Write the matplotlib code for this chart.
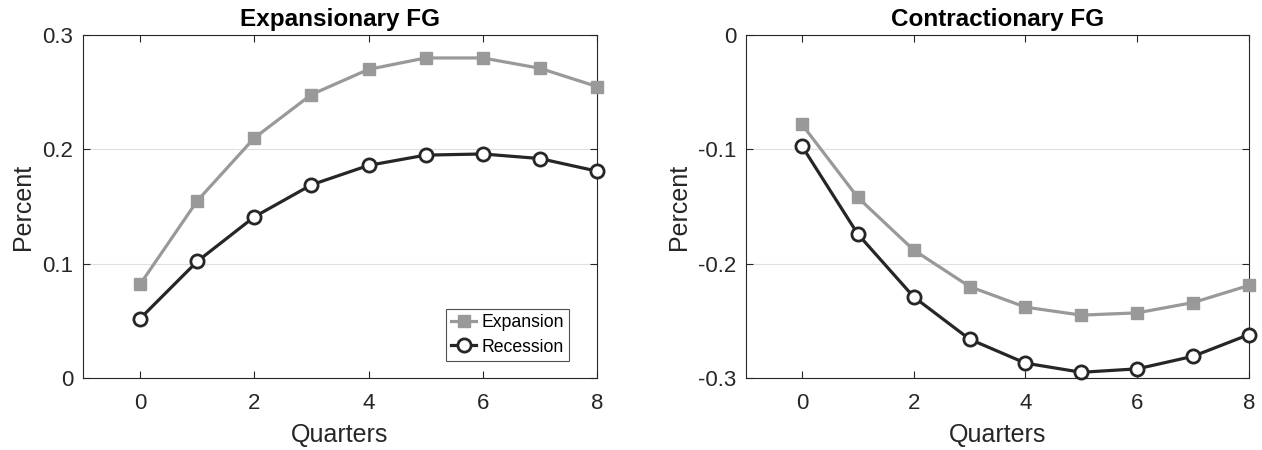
import matplotlib
matplotlib.use("Agg")
import matplotlib.pyplot as plt

plt.rcParams['font.family'] = ['Liberation Sans', 'DejaVu Sans']

quarters = [0, 1, 2, 3, 4, 5, 6, 7, 8]
exp_fg_expansion = [0.082, 0.155, 0.210, 0.248, 0.270, 0.280, 0.280, 0.271, 0.255]
exp_fg_recession = [0.052, 0.102, 0.141, 0.169, 0.186, 0.195, 0.196, 0.192, 0.181]
con_fg_expansion = [-0.078, -0.142, -0.188, -0.220, -0.238, -0.245, -0.243, -0.234, -0.219]
con_fg_recession = [-0.097, -0.174, -0.229, -0.266, -0.287, -0.295, -0.292, -0.281, -0.262]

titles = ["Expansionary FG", "Contractionary FG"]
xticks = [0, 2, 4, 6, 8]
yticks_left = [0, 0.1, 0.2, 0.3]
yticks_right = [-0.3, -0.2, -0.1, 0]

c_exp = '#999999'
c_rec = '#262626'

fig = plt.figure(figsize=(12.62, 4.5), dpi=100)
ax1 = fig.add_axes([0.0658, 0.16, 0.4072, 0.762])
ax2 = fig.add_axes([0.5911, 0.16, 0.3986, 0.762])

def style(ax, yt, ylim, ylabels):
    ax.set_xlim(-1, 8)
    ax.set_ylim(*ylim)
    ax.set_xticks(xticks)
    ax.set_yticks(yt)
    ax.set_yticklabels(ylabels)
    ax.tick_params(direction='in', top=True, right=True, labelsize=16, length=5, width=0.8,
                   color='#262626', labelcolor='#262626')
    ax.tick_params(axis='x', pad=10.5)
    ax.tick_params(axis='y', pad=7)
    for s in ax.spines.values():
        s.set_color('#262626')
        s.set_linewidth(0.8)
    ax.grid(axis='y', color='#e0e0e0', linewidth=0.8)
    ax.set_axisbelow(True)
    ax.set_xlabel('Quarters', fontsize=18, color='#262626', labelpad=7)
    ax.set_ylabel('Percent', fontsize=18, color='#262626', labelpad=5)

for ax, e, r, t in [(ax1, exp_fg_expansion, exp_fg_recession, titles[0]),
                    (ax2, con_fg_expansion, con_fg_recession, titles[1])]:
    ax.plot(quarters, e, color=c_exp, lw=2.3, marker='s', ms=8, mfc=c_exp, mec=c_exp, label='Expansion', clip_on=False, zorder=3)
    ax.plot(quarters, r, color=c_rec, lw=2.3, marker='o', ms=9.5, mfc='white', mec=c_rec, mew=2, label='Recession', clip_on=False, zorder=4)
    ax.set_title(t, fontsize=17.5, fontweight='bold', pad=6.5)

style(ax1, yticks_left, (0, 0.3), ['0', '0.1', '0.2', '0.3'])
style(ax2, yticks_right, (-0.3, 0), ['-0.3', '-0.2', '-0.1', '0'])

leg = ax1.legend(loc='lower right', bbox_to_anchor=(0.946, 0.05), fontsize=12.7, frameon=True, fancybox=False,
                 edgecolor='#262626', handlelength=1.4, handletextpad=0.3, borderpad=0.3, labelspacing=0.42,
                 borderaxespad=0)
leg.get_frame().set_linewidth(0.8)

fig.savefig('out.png', dpi=100)
